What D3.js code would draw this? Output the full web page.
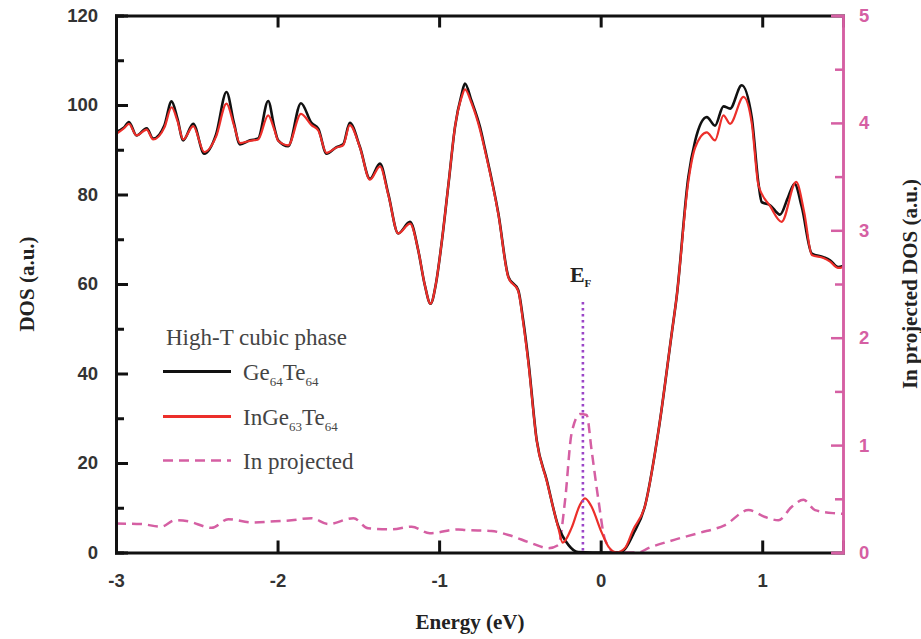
<!DOCTYPE html>
<html><head><meta charset="utf-8">
<script src="https://cdn.jsdelivr.net/npm/d3@7"></script>
<style>body{margin:0;background:#fff;} svg{display:block;}</style>
</head><body>
<svg id="c" width="921" height="639"></svg>
<script>
// ---- data ----
const energyGe = [-3,-2.95,-2.92,-2.873,-2.81,-2.77,-2.70,-2.656,-2.62,-2.584,-2.522,-2.454,-2.38,-2.316,-2.27,-2.233,-2.17,-2.12,-2.058,-2.02,-1.996,-1.934,-1.855,-1.79,-1.748,-1.697,-1.635,-1.594,-1.553,-1.49,-1.428,-1.366,-1.315,-1.253,-1.18,-1.129,-1.09,-1.053,-1.02,-0.985,-0.94,-0.902,-0.86,-0.84,-0.80,-0.747,-0.716,-0.633,-0.571,-0.51,-0.48,-0.448,-0.396,-0.334,-0.262,-0.2,-0.14,-0.05,0.05,0.12,0.151,0.2,0.275,0.357,0.44,0.47,0.543,0.585,0.657,0.708,0.76,0.801,0.873,0.935,0.977,0.997,1.049,1.11,1.16,1.2,1.245,1.307,1.379,1.42,1.47,1.5];
const dosGe = [94,95,96.2,93.2,94.8,92.5,95.5,100.8,97,92.1,95.8,89.1,93.5,102.9,96,91.2,92.1,92.5,100.9,95,92.1,90.8,100.4,96,94.7,89.1,90.6,91.2,96,90.6,83.5,86.9,80.2,71.3,73.9,67.5,60,55.6,60,69,83,95,102.5,104.8,101,95.1,90.2,75.7,61.6,58.6,52,43,25.1,16.2,5.8,1.7,0.1,0,0,0,0.8,4,10.5,27,49,57,84,92,97.3,95.4,99.7,99.2,104.4,97.3,82.4,78.3,77.6,75.5,79.4,82.4,77.2,66.8,66,65.3,63.8,64];

const energyIn = [-3,-2.95,-2.92,-2.873,-2.81,-2.77,-2.70,-2.656,-2.62,-2.584,-2.522,-2.454,-2.38,-2.316,-2.27,-2.233,-2.17,-2.12,-2.058,-2.02,-1.996,-1.934,-1.855,-1.79,-1.748,-1.697,-1.635,-1.594,-1.553,-1.49,-1.428,-1.366,-1.315,-1.253,-1.18,-1.129,-1.09,-1.053,-1.02,-0.985,-0.94,-0.902,-0.86,-0.84,-0.80,-0.747,-0.716,-0.633,-0.571,-0.51,-0.48,-0.448,-0.396,-0.334,-0.262,-0.235,-0.18,-0.13,-0.097,-0.06,0.006,0.05,0.1,0.151,0.2,0.275,0.357,0.44,0.47,0.543,0.585,0.657,0.708,0.76,0.801,0.884,0.935,0.977,1.049,1.12,1.21,1.26,1.307,1.379,1.42,1.47,1.5];
const dosIn = [93.5,94.8,95.8,93.2,94.5,92.3,95,99.5,96.5,92.3,95.3,89.5,93,100.3,95.5,91.5,92,92.3,97.7,94.5,92,91,98,95.5,94.3,89.3,90.5,91,95.5,90.5,83.3,86.3,80,71.3,73.5,67.5,60,55.6,60,69,83,95,101.8,103.5,100.5,94.5,89.8,75.5,61.4,58.4,51.5,42.5,25,16,5.5,2.2,5.5,10.5,12.1,10.5,4.5,1.2,0,1,5,10.5,27,49,57,83,90.5,93.9,92.1,97.7,95.8,101.8,96,82,77.4,73.9,82.8,76,66.5,65.8,65,63.6,63.8];

const energyProj = [-3,-2.845,-2.72,-2.635,-2.553,-2.408,-2.305,-2.16,-2.016,-1.913,-1.79,-1.686,-1.53,-1.44,-1.294,-1.17,-1.058,-0.88,-0.84,-0.675,-0.571,-0.427,-0.324,-0.262,-0.22,-0.18,-0.128,-0.087,-0.056,-0.014,0.027,0.09,0.233,0.295,0.46,0.605,0.77,0.915,1.018,1.1,1.183,1.255,1.327,1.45,1.5];
const projIn = [0.27,0.265,0.24,0.30,0.29,0.23,0.31,0.28,0.29,0.30,0.32,0.265,0.32,0.225,0.215,0.24,0.18,0.215,0.21,0.2,0.163,0.086,0.04,0.07,0.49,1.11,1.29,1.28,0.95,0.49,0.12,0,0,0.04,0.12,0.18,0.256,0.395,0.33,0.30,0.426,0.49,0.395,0.365,0.36];

const fermiEnergy = -0.11;
const fermiTop = 56;

const xTicks = [-3,-2,-1,0,1];
const yTicks = [0,20,40,60,80,100,120];
const y2Ticks = [0,1,2,3,4,5];

// ---- layout ----
const svg = d3.select("#c");
const L = 116, R = 843, T = 15.5, B = 552.5;
const x = d3.scaleLinear().domain([-3,1.5]).range([L,R]);
const y = d3.scaleLinear().domain([0,120]).range([B,T]);
const y2 = d3.scaleLinear().domain([0,5]).range([B,T]);

const pink = "#d55fa3";
const sans = "'Liberation Sans', Arial, sans-serif";
const serif = "'Liberation Serif', 'Times New Roman', serif";
const fmt = d => String(d);

svg.append("defs").append("clipPath").attr("id","clip")
  .append("rect").attr("x",L).attr("y",T-3).attr("width",R-L).attr("height",B-T+3);

const g = svg.append("g").attr("clip-path","url(#clip)");

const lineL = d3.line().x(d=>x(d[0])).y(d=>y(d[1])).curve(d3.curveMonotoneX);
const lineR = d3.line().x(d=>x(d[0])).y(d=>y2(d[1])).curve(d3.curveMonotoneX);

g.append("path").datum(d3.zip(energyProj, projIn)).attr("d", lineR)
  .attr("fill","none").attr("stroke",pink).attr("stroke-width",2.5).attr("stroke-dasharray","10,6");

g.append("path").datum(d3.zip(energyGe, dosGe)).attr("d", lineL)
  .attr("fill","none").attr("stroke","#111").attr("stroke-width",2.6);

g.append("path").datum(d3.zip(energyIn, dosIn)).attr("d", lineL)
  .attr("fill","none").attr("stroke","#ec2f2a").attr("stroke-width",2.2);

// Fermi line
svg.append("line").attr("x1",x(fermiEnergy)).attr("x2",x(fermiEnergy))
  .attr("y1",y(fermiTop)).attr("y2",y(0))
  .attr("stroke","#9b45c8").attr("stroke-width",2.6).attr("stroke-dasharray","2.5,3.5");
const ef = svg.append("text").attr("x",x(fermiEnergy)-13).attr("y",282)
  .attr("font-family",serif).attr("font-weight","bold").attr("font-size",22).attr("fill","#222");
ef.append("tspan").text("E");
ef.append("tspan").attr("font-size",11).attr("dy",5).text("F");

// axes
const axL = svg.append("g").attr("transform",`translate(${L},0)`)
  .call(d3.axisLeft(y).tickValues(yTicks).tickSize(-12).tickPadding(18).tickFormat(fmt));
const axLm = svg.append("g").attr("transform",`translate(${L},0)`)
  .call(d3.axisLeft(y).tickValues(d3.range(10,120,20)).tickSize(-8).tickFormat(""));
const axB = svg.append("g").attr("transform",`translate(0,${B})`)
  .call(d3.axisBottom(x).tickValues(xTicks).tickSize(-12).tickPadding(21).tickFormat(fmt));
const axT = svg.append("g").attr("transform",`translate(0,${T})`)
  .call(d3.axisTop(x).tickValues(xTicks).tickSize(-12).tickFormat(""));
const axR = svg.append("g").attr("transform",`translate(${R},0)`)
  .call(d3.axisRight(y2).tickValues(y2Ticks).tickSize(-12).tickPadding(16).tickFormat(fmt));
const axRm = svg.append("g").attr("transform",`translate(${R},0)`)
  .call(d3.axisRight(y2).tickValues(d3.range(0.5,5,1)).tickSize(-8).tickFormat(""));

[axL,axLm,axB,axT].forEach(a=>{
  a.select(".domain").attr("stroke","#111").attr("stroke-width",3);
  a.selectAll(".tick line").attr("stroke","#111").attr("stroke-width",3);
  a.selectAll(".tick text").attr("font-family",sans).attr("font-weight","bold").attr("font-size",18.5).attr("fill","#333");
});
[axR,axRm].forEach(a=>{
  a.select(".domain").attr("stroke",pink).attr("stroke-width",2.5);
  a.selectAll(".tick line").attr("stroke",pink).attr("stroke-width",2.5);
  a.selectAll(".tick text").attr("font-family",sans).attr("font-weight","bold").attr("font-size",18.5).attr("fill",pink);
});
axT.selectAll(".tick").filter(d=>d===-3).remove();
axB.selectAll(".tick line").filter(d=>d===-3).remove();
axL.selectAll(".tick line").filter(d=>d===0||d===120).remove();
axR.selectAll(".tick text").attr("text-anchor","start");

// axis titles
svg.append("text").attr("transform","translate(34,284) rotate(-90)").attr("text-anchor","middle")
  .attr("font-family",serif).attr("font-weight","bold").attr("font-size",21).attr("fill","#222").text("DOS (a.u.)");
svg.append("text").attr("transform","translate(917,284) rotate(-90)").attr("text-anchor","middle")
  .attr("font-family",serif).attr("font-weight","bold").attr("font-size",21).attr("fill","#222").text("In projected DOS (a.u.)");
svg.append("text").attr("x",470).attr("y",629).attr("text-anchor","middle")
  .attr("font-family",serif).attr("font-weight","bold").attr("font-size",21).attr("fill","#222").text("Energy (eV)");

// legend
const leg = svg.append("g").attr("font-family",serif).attr("fill","#444").attr("font-size",23);
leg.append("text").attr("x",166).attr("y",345).text("High-T cubic phase");
const items = [
  {y:371.5, stroke:"#111", dash:null, parts:[["Ge",0],["64",1],["Te",0],["64",1]]},
  {y:416.5, stroke:"#ec2f2a", dash:null, parts:[["In",0],["Ge",0],["63",1],["Te",0],["64",1]]},
  {y:460.5, stroke:pink, dash:"10,6", parts:[["In projected",0]]}
];
items.forEach(it=>{
  leg.append("line").attr("x1",163).attr("x2",231).attr("y1",it.y).attr("y2",it.y)
    .attr("stroke",it.stroke).attr("stroke-width",it.dash?2.5:3).attr("stroke-dasharray",it.dash);
  const t = leg.append("text").attr("x",243).attr("y",it.y+8);
  let prevSub = false;
  it.parts.forEach(p=>{
    const s = t.append("tspan").text(p[0]);
    if (p[1]) { s.attr("font-size",13).attr("dy", prevSub?0:6); prevSub = true; }
    else { if (prevSub) s.attr("dy",-6); prevSub = false; }
  });
});
</script>
</body></html>
